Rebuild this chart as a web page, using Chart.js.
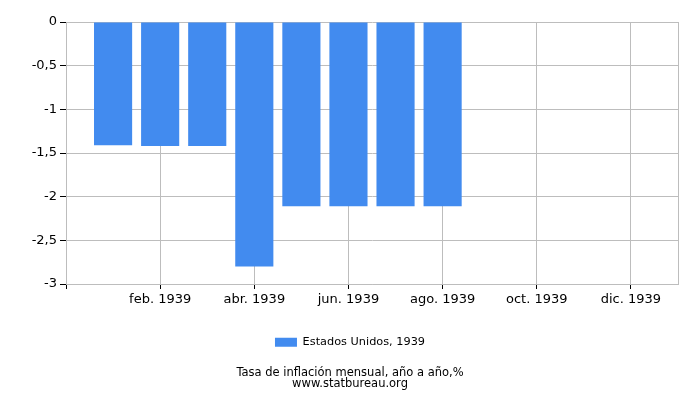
<!DOCTYPE html>
<html>
<head>
<meta charset="utf-8">
<script src="https://cdn.jsdelivr.net/npm/chart.js@4/dist/chart.umd.min.js"></script>
<style>
html,body{margin:0;padding:0;background:#fff;}
#wrap{width:700px;height:400px;position:relative;}
</style>
</head>
<body>
<div id="wrap"><canvas id="c"></canvas></div>
<script>
const months = ['ene. 1939','feb. 1939','mar. 1939','abr. 1939','may. 1939','jun. 1939','jul. 1939','ago. 1939','sep. 1939','oct. 1939','nov. 1939','dic. 1939'];
const values = [-1.41, -1.42, -1.42, -2.80, -2.11, -2.11, -2.11, -2.11];
const seriesName = 'Estados Unidos, 1939';
const titleLines = ['Tasa de inflación mensual, año a año,%', 'www.statbureau.org'];
const yTicks = [0, -0.5, -1, -1.5, -2, -2.5, -3];

// axis positions: leading blank slot, 12 months, trailing blank slot edge
const labels = [''].concat(months).concat(['']);
const data = [null].concat(values);
while (data.length < labels.length) data.push(null);

const FONT = 'DejaVu Sans';
const GRID = '#bdbdbd';

new Chart(document.getElementById('c'), {
  type: 'bar',
  data: {
    labels: labels,
    datasets: [{
      label: seriesName,
      data: data,
      backgroundColor: '#428bef',
      borderWidth: 0,
      barPercentage: 1,
      categoryPercentage: 0.81
    }]
  },
  options: {
    responsive: true,
    maintainAspectRatio: false,
    animation: false,
    layout: { padding: { left: 22, right: 22, top: 22, bottom: 10 } },
    scales: {
      x: {
        type: 'category',
        offset: false,
        afterFit: s => { s.height += 16; },
        border: { color: GRID },
        grid: {
          offset: false,
          color: ctx => (ctx.index >= 2 && ctx.index % 2 === 0) || ctx.index === labels.length - 1 ? GRID : 'rgba(0,0,0,0)',
          tickColor: ctx => (ctx.index % 2 === 0 && ctx.index <= 12) ? '#000' : 'rgba(0,0,0,0)',
          tickLength: 5,
          lineWidth: 1
        },
        ticks: {
          autoSkip: false,
          maxRotation: 0,
          minRotation: 0,
          padding: 3,
          color: '#000',
          font: { family: FONT, size: 13 },
          callback: function(v, i) { return (i >= 2 && i <= 12 && i % 2 === 0) ? labels[i] : ''; }
        }
      },
      y: {
        min: -3,
        max: 0,
        afterFit: s => { s.width = 44; },
        afterBuildTicks: s => { s.ticks = yTicks.map(v => ({ value: v })); },
        border: { color: GRID },
        grid: { color: GRID, tickColor: '#000', tickLength: 6 },
        ticks: {
          padding: 3,
          color: '#000',
          font: { family: FONT, size: 13 },
          callback: v => String(v).replace('.', ',')
        }
      }
    },
    plugins: {
      legend: {
        position: 'bottom',
        labels: {
          boxWidth: 22,
          boxHeight: 9,
          color: '#000',
          font: { family: FONT, size: 11.3 },
          padding: 10
        }
      },
      title: {
        display: true,
        position: 'bottom',
        text: titleLines,
        color: '#000',
        font: { family: FONT, size: 11.5, weight: 'normal', lineHeight: 0.96 },
        padding: { top: 10, bottom: 0 }
      },
      tooltip: { enabled: false }
    }
  }
});
</script>
</body>
</html>
